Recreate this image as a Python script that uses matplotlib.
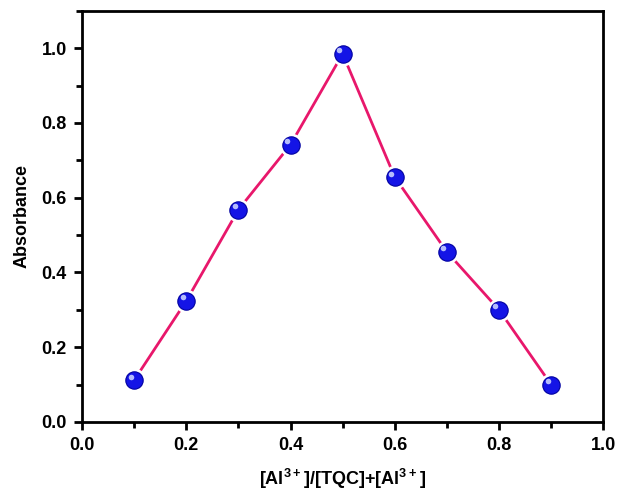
import matplotlib
matplotlib.use('Agg')
import matplotlib.pyplot as plt
import matplotlib.transforms as mtransforms
from matplotlib.ticker import MultipleLocator

plt.rcParams['font.family'] = ['Liberation Sans', 'DejaVu Sans']
plt.rcParams['font.weight'] = 'bold'
plt.rcParams['mathtext.fontset'] = 'custom'
plt.rcParams['mathtext.rm'] = 'Liberation Sans:bold'
plt.rcParams['mathtext.bf'] = 'Liberation Sans:bold'
plt.rcParams['mathtext.default'] = 'bf'

# Job's plot data
mole_fraction = [0.1, 0.2, 0.3, 0.4, 0.5, 0.6, 0.7, 0.8, 0.9]
absorbance = [0.112, 0.324, 0.568, 0.742, 0.985, 0.655, 0.455, 0.300, 0.100]

fig = plt.figure(figsize=(6.27, 4.94), dpi=100)
ax = fig.add_axes([0.131, 0.146, 0.831, 0.832])

ax.plot(mole_fraction, absorbance, color='#e8176b', lw=2, zorder=2)
# white halo so the line stops short of the spheres
ax.plot(mole_fraction, absorbance, 'o', ms=16, color='white', mec='white', zorder=3)
ax.plot(mole_fraction, absorbance, 'o', ms=12.5, color='#1414e6', mec='#0000a0', mew=0.8, zorder=4)
# highlight on the spheres
hl = ax.transData + mtransforms.ScaledTranslation(-2.5 / 72, 2.5 / 72, fig.dpi_scale_trans)
ax.plot(mole_fraction, absorbance, 'o', ms=4, color='#c8d0ff', mec='none', alpha=0.9,
        transform=hl, zorder=5)

ax.set_xlim(0, 1.0)
ax.set_ylim(0, 1.1)
ax.xaxis.set_major_locator(MultipleLocator(0.2))
ax.xaxis.set_minor_locator(MultipleLocator(0.1))
ax.yaxis.set_minor_locator(MultipleLocator(0.1))
ax.set_yticks([0.0, 0.2, 0.4, 0.6, 0.8, 1.0])
ax.xaxis.set_major_formatter(plt.FormatStrFormatter('%.1f'))
ax.yaxis.set_major_formatter(plt.FormatStrFormatter('%.1f'))

for s in ax.spines.values():
    s.set_linewidth(2)
ax.tick_params(which='major', direction='out', length=6, width=2, labelsize=13, pad=5)
ax.tick_params(which='minor', direction='out', length=4, width=2)

ax.set_xlabel(r'[Al$^{3+}$]/[TQC]+[Al$^{3+}$]', fontsize=13, fontweight='bold', labelpad=9)
ax.set_ylabel('Absorbance', fontsize=13, fontweight='bold', labelpad=8)

fig.savefig('out.png', dpi=100)
